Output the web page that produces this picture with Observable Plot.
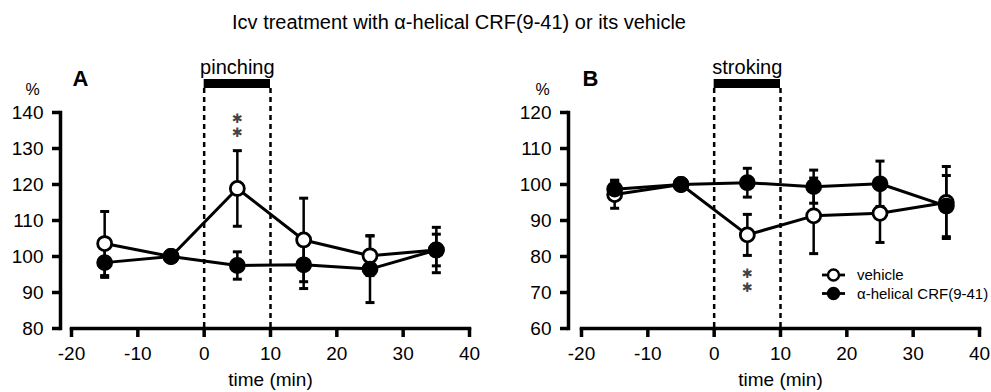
<!DOCTYPE html>
<html><head><meta charset="utf-8">
<script src="https://cdn.jsdelivr.net/npm/d3@7"></script>
<script src="https://cdn.jsdelivr.net/npm/@observablehq/plot@0.6"></script>
<style>
body{margin:0;background:#fff;font-family:"Liberation Sans",Arial,sans-serif;}
#wrap{position:relative;width:991px;height:392px;overflow:hidden;background:#fff}
#title{position:absolute;top:12px;left:0;width:918px;text-align:center;font-size:20px;line-height:1;color:#000}
.panel{position:absolute;top:0}
#legend{position:absolute;left:810px;top:262px}
</style></head>
<body><div id="wrap">
<div id="title"></div>
<div id="A" class="panel" style="left:0px"></div>
<div id="B" class="panel" style="left:495px"></div>
<div id="legend"></div>
</div>
<script>
const titleText = "Icv treatment with α-helical CRF(9-41) or its vehicle";
const seriesNames = ["vehicle", "α-helical CRF(9-41)"];
const times = [-15, -5, 5, 15, 25, 35];
const xTicks = [-20, -10, 0, 10, 20, 30, 40];
const stimWindow = [0, 10];
const sigMark = "✱\n✱";

// Panel A (pinching)
const aVehicle    = [103.6, 100, 118.9, 104.6, 100.2, 101.8];
const aVehicleErr = [8.9,   0,   10.5,  11.6,  5.5,   6.3];
const aCRF        = [98.3,  100, 97.5,  97.7,  96.5,  101.8];
const aCRFErr     = [4.1,   0,   3.8,   6.6,   9.3,   4.4];
const aYTicks = [80, 90, 100, 110, 120, 130, 140];

// Panel B (stroking)
const bVehicle    = [97.2, 100, 86.0, 91.3, 92.0, 95.0];
const bVehicleErr = [3.8,  0,   5.7,  10.5, 8.1,  10.0];
const bCRF        = [98.7, 100, 100.5, 99.4, 100.2, 94.0];
const bCRFErr     = [2.5,  0,   4.0,  4.6,  6.3,  8.5];
const bYTicks = [60, 70, 80, 90, 100, 110, 120];

const sigTimeA = [5];
const sigTimeB = [5];

const FONT = "'Liberation Sans', Arial, sans-serif";
document.getElementById("title").textContent = titleText;

const capSymbol = {
  draw(ctx, size) { const w = Math.sqrt(size / Math.PI); ctx.moveTo(-w, 0); ctx.lineTo(w, 0); }
};

function panel(o) {
  const rows = (s, v, e) => times.map((t, i) => ({s, t, v: v[i], e: e[i]}));
  const dv = rows(0, o.veh, o.vehErr), dc = rows(1, o.crf, o.crfErr);
  const withErr = dv.concat(dc).filter(d => d.e > 0);
  const sigRows = o.sig.map(t => {
    const d = dv.find(r => r.t === t);
    return {t, y: o.sigBelow ? d.v - d.e : d.v + d.e};
  });
  const frameH = 392 - 112 - 64;
  return Plot.plot({
    width: o.width, height: 392,
    marginTop: 112, marginBottom: 64, marginLeft: o.marginLeft, marginRight: o.marginRight,
    style: {fontFamily: FONT, fontSize: "19px", color: "#000", background: "transparent", overflow: "visible"},
    x: {domain: [-20, 40]},
    y: {domain: o.yDomain},
    marks: [
      Plot.ruleX(stimWindow, {stroke: "#000", strokeWidth: 2.5, strokeDasharray: "5,4", insetTop: -24}),
      Plot.rect([stimWindow], {x1: d => d[0], x2: d => d[1], fill: "#000", insetTop: -33, insetBottom: frameH + 24}),
      Plot.text([o.stimLabel], {x: d3.mean(stimWindow), frameAnchor: "top", lineAnchor: "middle", dy: -45, text: d => d, fontSize: 20}),
      Plot.frame({anchor: "left", dx: -o.axisOffset, stroke: "#000", strokeWidth: 3.5, strokeLinecap: "square"}),
      Plot.frame({anchor: "bottom", stroke: "#000", strokeWidth: 3.5, strokeLinecap: "square"}),
      Plot.axisY({ticks: o.yTicks, tickSize: 8, tickPadding: 9, dx: -o.axisOffset, strokeWidth: 3.5, fontSize: 19, label: null, tickFormat: d => String(d)}),
      Plot.axisX({ticks: xTicks, tickSize: 9, tickPadding: 9, strokeWidth: 3.5, fontSize: 19, label: null, tickFormat: d => String(d)}),
      Plot.text(["time (min)"], {x: d3.mean([-20, 40]), frameAnchor: "bottom", lineAnchor: "middle", dy: 51, text: d => d, fontSize: 19}),
      Plot.text(["%"], {frameAnchor: "top-left", lineAnchor: "middle", textAnchor: "middle", dx: -39, dy: -23, text: d => d, fontSize: 16}),
      Plot.text([o.letter], {frameAnchor: "top-left", lineAnchor: "middle", textAnchor: "start", dx: 1, dy: -34, text: d => d, fontSize: 22, fontWeight: "bold"}),
      Plot.line(dv, {x: "t", y: "v", stroke: "#000", strokeWidth: 3}),
      Plot.line(dc, {x: "t", y: "v", stroke: "#000", strokeWidth: 3}),
      Plot.ruleX(withErr, {x: "t", y1: d => d.v - d.e, y2: d => d.v + d.e, stroke: "#000", strokeWidth: 2.5}),
      Plot.dot(withErr, {x: "t", y: d => d.v + d.e, symbol: capSymbol, r: 4.5, stroke: "#000", strokeWidth: 3, fill: "none"}),
      Plot.dot(withErr, {x: "t", y: d => d.v - d.e, symbol: capSymbol, r: 4.5, stroke: "#000", strokeWidth: 3, fill: "none"}),
      Plot.dot(dv, {x: "t", y: "v", r: 7, fill: "#fff", stroke: "#000", strokeWidth: 2.8}),
      Plot.dot(dc, {x: "t", y: "v", r: 7, fill: "#000", stroke: "#000", strokeWidth: 2.8}),
      Plot.text(sigRows, {x: "t", y: "y", text: () => sigMark, fontFamily: "'DejaVu Sans', sans-serif", fontSize: 13, lineHeight: 1.1, fill: "#444", lineAnchor: "middle", dy: o.sigBelow ? 25 : -25})
    ]
  });
}

document.getElementById("A").append(panel({
  letter: "A", stimLabel: "pinching", yDomain: [80, 140], yTicks: aYTicks,
  veh: aVehicle, vehErr: aVehicleErr, crf: aCRF, crfErr: aCRFErr,
  width: 495, marginLeft: 71, marginRight: 26, axisOffset: 11, sig: sigTimeA, sigBelow: false
}));
document.getElementById("B").append(panel({
  letter: "B", stimLabel: "stroking", yDomain: [60, 120], yTicks: bYTicks,
  veh: bVehicle, vehErr: bVehicleErr, crf: bCRF, crfErr: bCRFErr,
  width: 496, marginLeft: 86, marginRight: 12, axisOffset: 13, sig: sigTimeB, sigBelow: true
}));

// legend
const lg = d3.select("#legend").append("svg").attr("width", 181).attr("height", 44)
  .style("font-family", FONT).style("overflow", "visible");
seriesNames.forEach((name, i) => {
  const y = 13 + i * 18.5;
  const g = lg.append("g");
  g.append("line").attr("x1", 12).attr("x2", 35).attr("y1", y).attr("y2", y).attr("stroke", "#000").attr("stroke-width", 2.8);
  g.append("circle").attr("cx", 23.5).attr("cy", y).attr("r", 5.5).attr("stroke", "#000").attr("stroke-width", 2.4).attr("fill", i === 0 ? "#fff" : "#000");
  g.append("text").attr("x", 47).attr("y", y).attr("dy", "0.35em").attr("font-size", 15).text(name);
});
</script>
</body></html>
